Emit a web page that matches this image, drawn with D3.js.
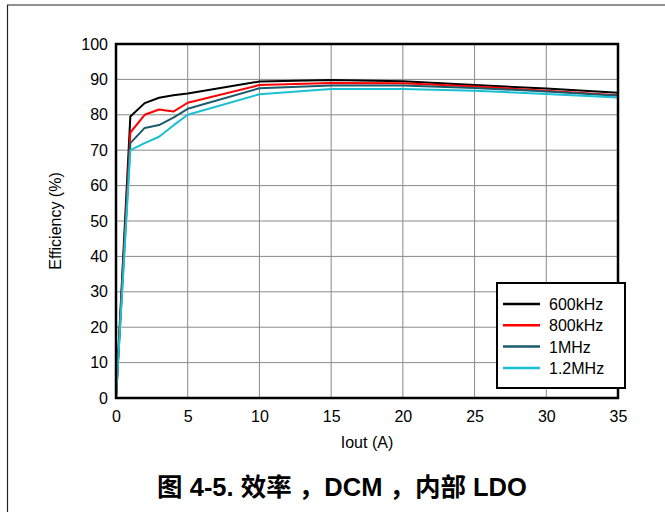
<!DOCTYPE html>
<html>
<head>
<meta charset="utf-8">
<script src="https://cdn.jsdelivr.net/npm/d3@7.9.0/dist/d3.min.js"></script>
<style>
  body { margin: 0; background: #fff; }
  svg { display: block; font-family: "Liberation Sans", Arial, sans-serif; }
</style>
</head>
<body>
<svg width="665" height="512"></svg>
<script>
// data
const iout = [0, 1, 2, 3, 4, 5, 10, 15, 20, 25, 30, 35];
const eff600k = [0, 79.5, 83.3, 84.8, 85.5, 86, 89.4, 89.8, 89.5, 88.4, 87.4, 86.2];
const eff800k = [0, 75, 80, 81.5, 80.9, 83.4, 88.4, 89, 88.9, 88, 86.8, 85.5];
const eff1M = [0, 72, 76.3, 77.1, 79.2, 81.7, 87.5, 88.3, 88.3, 87.6, 86.6, 85.4];
const eff12M = [0, 70, 72, 73.8, 77, 80, 85.8, 87.3, 87.3, 86.8, 85.9, 84.9];
const seriesNames = ["600kHz", "800kHz", "1MHz", "1.2MHz"];
const seriesColors = ["#000000", "#ff0000", "#1b5c6c", "#19bfd2"];
const xTicks = [0, 5, 10, 15, 20, 25, 30, 35];
const yTicks = [0, 10, 20, 30, 40, 50, 60, 70, 80, 90, 100];

const series = [eff600k, eff800k, eff1M, eff12M];

const svg = d3.select("svg");
const m = { left: 116, right: 618, top: 44, bottom: 398 };

// page frame
svg.append("line").attr("x1", 7).attr("x2", 665).attr("y1", 5).attr("y2", 5)
  .attr("stroke", "#222").attr("stroke-width", 1.2);
svg.append("line").attr("x1", 7.5).attr("x2", 7.5).attr("y1", 5).attr("y2", 512)
  .attr("stroke", "#222").attr("stroke-width", 1.2);

const x = d3.scaleLinear().domain([0, 35]).range([m.left, m.right]);
const y = d3.scaleLinear().domain([0, 100]).range([m.bottom, m.top]);

// grid
svg.append("g").selectAll("line").data(xTicks.slice(1, -1)).join("line")
  .attr("x1", d => x(d)).attr("x2", d => x(d))
  .attr("y1", m.top).attr("y2", m.bottom)
  .attr("stroke", "#8a8a8a").attr("stroke-width", 1);
svg.append("g").selectAll("line").data(yTicks.slice(1, -1)).join("line")
  .attr("x1", m.left).attr("x2", m.right)
  .attr("y1", d => y(d)).attr("y2", d => y(d))
  .attr("stroke", "#8a8a8a").attr("stroke-width", 1);

// axes (labels only)
const xAxis = svg.append("g").attr("transform", `translate(0,${m.bottom})`)
  .call(d3.axisBottom(x).tickValues(xTicks).tickSize(0).tickPadding(13));
const yAxis = svg.append("g").attr("transform", `translate(${m.left},0)`)
  .call(d3.axisLeft(y).tickValues(yTicks).tickSize(0).tickPadding(8));
[xAxis, yAxis].forEach(a => {
  a.select(".domain").remove();
  a.selectAll("text").attr("font-size", 16).attr("fill", "#000")
    .attr("font-family", "Liberation Sans, Arial, sans-serif");
});

// lines
const line = d3.line().x((d, i) => x(iout[i])).y(d => y(d));
series.forEach((s, k) => {
  svg.append("path").datum(s).attr("d", line)
    .attr("fill", "none").attr("stroke", seriesColors[k])
    .attr("stroke-width", 2).attr("stroke-linejoin", "round");
});

// plot border
svg.append("rect").attr("x", m.left).attr("y", m.top)
  .attr("width", m.right - m.left).attr("height", m.bottom - m.top)
  .attr("fill", "none").attr("stroke", "#000").attr("stroke-width", 2.5);

// legend
const lg = svg.append("g");
lg.append("rect").attr("x", 497).attr("y", 283).attr("width", 128).attr("height", 105)
  .attr("fill", "#fff").attr("stroke", "#000").attr("stroke-width", 2);
seriesNames.forEach((n, k) => {
  const yy = 304 + k * 21.3;
  lg.append("line").attr("x1", 503).attr("x2", 540).attr("y1", yy).attr("y2", yy)
    .attr("stroke", seriesColors[k]).attr("stroke-width", 2.5);
  lg.append("text").attr("x", 549).attr("y", yy + 6).attr("font-size", 16).text(n);
});

// axis titles
svg.append("text").attr("x", (m.left + m.right) / 2).attr("y", 448)
  .attr("text-anchor", "middle").attr("font-size", 16).text("Iout (A)");
svg.append("text").attr("transform", `translate(61,${(m.top + m.bottom) / 2}) rotate(-90)`)
  .attr("text-anchor", "middle").attr("font-size", 16).text("Efficiency (%)");

// caption
svg.append("text").attr("x", 342).attr("y", 496).attr("text-anchor", "middle")
  .attr("font-size", 25.5).attr("font-weight", "bold")
  .attr("font-family", "Liberation Sans, 'Noto Sans CJK SC', sans-serif")
  .text("图 4-5. 效率 ，DCM ，内部 LDO");
</script>
</body>
</html>
